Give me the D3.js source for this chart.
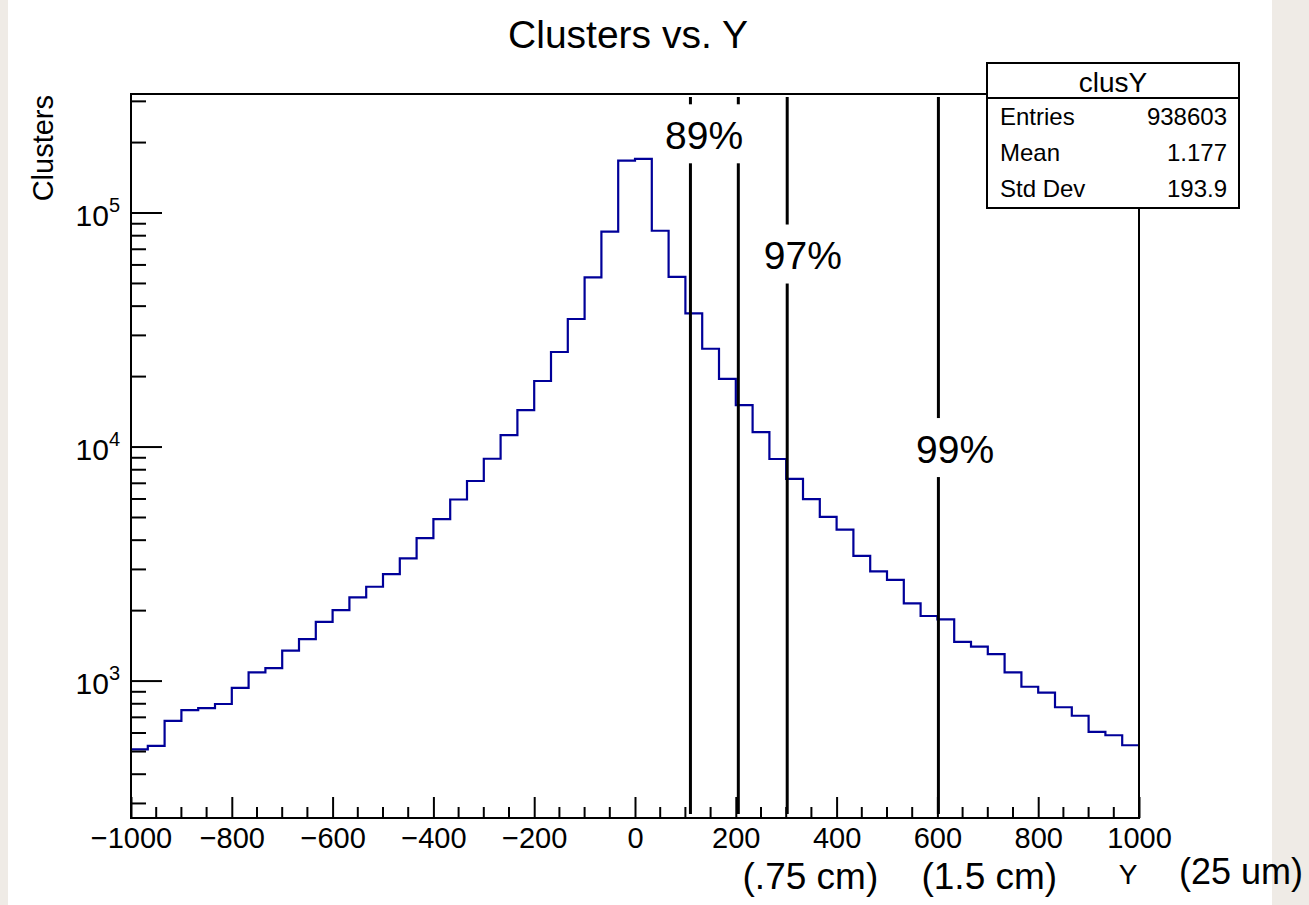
<!DOCTYPE html>
<html>
<head>
<meta charset="utf-8">
<title>Clusters vs. Y</title>
<script src="https://cdn.jsdelivr.net/npm/d3@7"></script>
<style>
  html, body { margin: 0; padding: 0; background: #efebe6; }
  svg { display: block; }
  text { font-family: "Liberation Sans", Arial, Helvetica, sans-serif; fill: #000; }
</style>
</head>
<body>
<svg id="chart" width="1309" height="905"></svg>
<script>
// histogram clusY, 60 bins from -1000 to 1000
var xMin = -1000, xMax = 1000, nBins = 60;
var counts = [
  511, 529, 676, 751, 767, 798, 935, 1089, 1135, 1349,
  1511, 1790, 2009, 2279, 2530, 2867, 3342, 4083, 4920, 5970,
  7160, 8913, 11250, 14390, 19150, 25470, 35240, 53110, 83200, 167300,
  170200, 84000, 53400, 37240, 26300, 19560, 15100, 11580, 8890, 7310,
  5996, 5035, 4434, 3428, 2943, 2705, 2147, 1897, 1836, 1472,
  1403, 1304, 1089, 946, 893, 773, 711, 607, 587, 532
];
var xTicks = [-1000, -800, -600, -400, -200, 0, 200, 400, 600, 800, 1000];
var yDecades = [3, 4, 5];
var cutLines = [110, 205, 302, 602];
var cutLabels = ['89%', '97%', '99%'];
var cutLabelX = [137, 333, 635];
var cutLabelY = [218000, 66800, 9950];
var statNames = ['Entries', 'Mean', 'Std Dev'];
var statValues = ['938603', '1.177', '193.9'];
var unitLabels = ['(.75 cm)', '(1.5 cm)'];
var unitLabelX = [348, 703];

(function () {
  'use strict';

  var svg = d3.select('#chart');
  var left = 131, right = 1139, top = 94, bottom = 818;
  var xScale, yScale, binWidth;

  function setChartParameters() {
    binWidth = (xMax - xMin) / nBins;
    xScale = d3.scaleLinear().domain([xMin, xMax]).range([left, right]);
    yScale = d3.scaleLog().domain([260, 322500]).range([bottom, top]);
  }

  function drawPage() {
    svg.append('rect')
      .attr('x', 8).attr('y', 0)
      .attr('width', 1264).attr('height', 905)
      .attr('fill', '#ffffff');
  }

  function drawHistogram() {
    var pts = [];
    counts.forEach(function (c, i) {
      var lo = xMin + i * binWidth;
      pts.push([xScale(lo), yScale(c)]);
      pts.push([xScale(lo + binWidth), yScale(c)]);
    });
    svg.append('path')
      .attr('d', d3.line()(pts))
      .attr('fill', 'none')
      .attr('stroke', '#000099')
      .attr('stroke-width', 2.2);
  }

  function drawAxes() {
    // x axis: majors every 200, minors every 50
    var xAxis = d3.axisBottom(xScale)
      .tickValues(xTicks)
      .tickSizeInner(-21).tickSizeOuter(0)
      .tickFormat(function (d) { return d < 0 ? '\u2212' + Math.abs(d) : d; })
      .tickPadding(10);
    var gx = svg.append('g')
      .attr('transform', 'translate(0,' + bottom + ')')
      .call(xAxis);
    gx.select('.domain').remove();
    gx.selectAll('line').attr('stroke', '#000').attr('stroke-width', 2);
    gx.selectAll('text')
      .attr('font-size', 29)
      .attr('dy', null)
      .attr('y', 30);

    var minorX = d3.range(xMin, xMax + 1, 50).filter(function (v) { return v % 200 !== 0; });
    svg.append('g').selectAll('line').data(minorX).enter().append('line')
      .attr('x1', function (d) { return xScale(d); })
      .attr('x2', function (d) { return xScale(d); })
      .attr('y1', bottom).attr('y2', bottom - 11)
      .attr('stroke', '#000').attr('stroke-width', 2);

    // y axis: log ticks
    var domain = yScale.domain();
    var gy = svg.append('g');
    gy.selectAll('line').data(yScale.ticks().filter(function (v) {
        return v >= domain[0] && v <= domain[1];
      })).enter().append('line')
      .attr('x1', left)
      .attr('x2', function (d) {
        var l = Math.log10(d);
        return Math.abs(l - Math.round(l)) < 1e-9 ? left + 31 : left + 15;
      })
      .attr('y1', function (d) { return yScale(d); })
      .attr('y2', function (d) { return yScale(d); })
      .attr('stroke', '#000').attr('stroke-width', 2);

    var lab = gy.selectAll('text.ylab').data(yDecades).enter().append('text')
      .attr('class', 'ylab')
      .attr('text-anchor', 'end')
      .attr('x', left - 11)
      .attr('y', function (d) { return yScale(Math.pow(10, d)) + 13; })
      .attr('font-size', 30);
    lab.append('tspan').text('10');
    lab.append('tspan')
      .attr('font-size', 20)
      .attr('dy', -14)
      .text(function (d) { return d; });

    // frame
    svg.append('rect')
      .attr('x', left).attr('y', top)
      .attr('width', right - left).attr('height', bottom - top)
      .attr('fill', 'none')
      .attr('stroke', '#000').attr('stroke-width', 2);
  }

  function drawCuts() {
    var d = yScale.domain();
    svg.append('g').selectAll('line').data(cutLines).enter().append('line')
      .attr('x1', function (v) { return xScale(v); })
      .attr('x2', function (v) { return xScale(v); })
      .attr('y1', yScale(d[1]) + 3)
      .attr('y2', yScale(d[0]) - 4)
      .attr('stroke', '#000').attr('stroke-width', 3);

    var g = svg.append('g');
    cutLabels.forEach(function (t, i) {
      var cx = xScale(cutLabelX[i]), cy = yScale(cutLabelY[i]);
      g.append('rect')
        .attr('x', cx - 50).attr('y', cy - 29.5)
        .attr('width', 100).attr('height', 59)
        .attr('fill', '#fff');
      g.append('text')
        .attr('x', cx).attr('y', cy + 15)
        .attr('text-anchor', 'middle')
        .attr('font-size', 39)
        .text(t);
    });
  }

  function drawStats() {
    var bx = 987, by = 63, bw = 252, bh = 145;
    var g = svg.append('g');
    g.append('rect')
      .attr('x', bx).attr('y', by).attr('width', bw).attr('height', bh)
      .attr('fill', '#fff').attr('stroke', '#000').attr('stroke-width', 2);
    g.append('line')
      .attr('x1', bx).attr('x2', bx + bw)
      .attr('y1', by + 35).attr('y2', by + 35)
      .attr('stroke', '#000').attr('stroke-width', 2);
    g.append('text')
      .attr('x', bx + bw / 2).attr('y', by + 29)
      .attr('text-anchor', 'middle')
      .attr('font-size', 28)
      .text('clusY');
    statNames.forEach(function (n, i) {
      var y = by + 62 + i * 36;
      g.append('text').attr('x', bx + 13).attr('y', y)
        .attr('font-size', 24).text(n);
      g.append('text').attr('x', bx + bw - 12).attr('y', y)
        .attr('text-anchor', 'end')
        .attr('font-size', 24).text(statValues[i]);
    });
  }

  function drawTitles() {
    svg.append('text')
      .attr('x', 628).attr('y', 48)
      .attr('text-anchor', 'middle')
      .attr('font-size', 39)
      .text('Clusters vs. Y');

    svg.append('text')
      .attr('transform', 'translate(53,95) rotate(-90)')
      .attr('text-anchor', 'end')
      .attr('font-size', 29)
      .text('Clusters');

    svg.append('text')
      .attr('x', 1128).attr('y', 884)
      .attr('text-anchor', 'middle')
      .attr('font-size', 28)
      .text('Y');

    unitLabels.forEach(function (t, i) {
      svg.append('text')
        .attr('x', xScale(unitLabelX[i])).attr('y', 889)
        .attr('text-anchor', 'middle')
        .attr('font-size', 37)
        .text(t);
    });

    svg.append('text')
      .attr('x', 1241).attr('y', 884)
      .attr('text-anchor', 'middle')
      .attr('font-size', 36)
      .text('(25 um)');
  }

  setChartParameters();
  drawPage();
  drawHistogram();
  drawCuts();
  drawAxes();
  drawStats();
  drawTitles();
})();
</script>
</body>
</html>
